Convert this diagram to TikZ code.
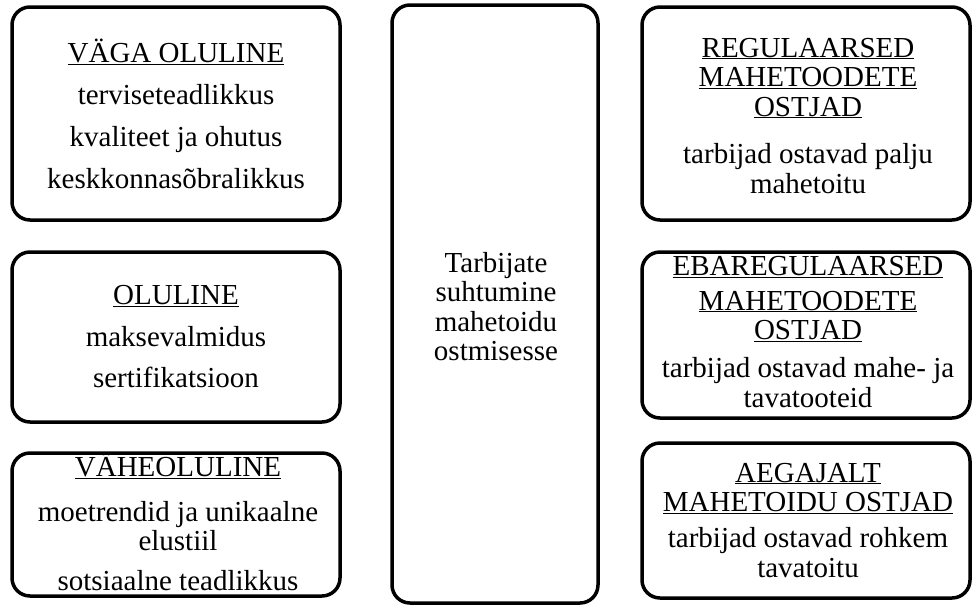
\documentclass[tikz,border=0pt]{standalone}
\usepackage{fontspec}
\setmainfont{Liberation Serif}
\usepackage{tikz}
\tikzset{
    rounded-box/.style = {draw=black, line width=3.5pt, rectangle, rounded corners=18pt, inner sep=0pt},
    box-text/.style = {anchor=base, align=center, inner sep=0pt, font=\fontsize{29}{29.5}\selectfont},
}

\begin{document}
\begin{tikzpicture}[x=1pt, y=-1pt]
\useasboundingbox (0,0) rectangle (972,606);
% left column
\node [rounded-box, minimum width=328pt, minimum height=213pt] (very) at (176,113.5) {};
\node [rounded-box, minimum width=328pt, minimum height=170pt] (important) at (176,337) {};
\node [rounded-box, minimum width=328pt, minimum height=143pt] (minor) at (176,524.5) {};
% middle
\node [rounded-box, minimum width=206pt, minimum height=598pt] (attitude) at (495,304) {};
% right column
\node [rounded-box, minimum width=328pt, minimum height=213pt] (regular) at (806,113.5) {};
\node [rounded-box, minimum width=328pt, minimum height=166pt] (irregular) at (806,335) {};
\node [rounded-box, minimum width=328pt, minimum height=155pt] (occasional) at (806,520.5) {};

% texts sit on the baseline of their last line
\node [box-text] (very-text) at (176,188) {\underline{VÄGA OLULINE}\\[12.5pt]
    terviseteadlikkus\\[12.5pt] kvaliteet ja ohutus\\[12pt] keskkonnasõbralikkus};
\node [box-text] (important-text) at (176,387) {\underline{OLULINE}\\[12.5pt]
    maksevalmidus\\[11pt] sertifikatsioon};
\node [box-text] (minor-text) at (178,590) {\underline{VÄHEOLULINE}\\[15.5pt]
    moetrendid ja unikaalne\\[-1pt] elustiil\\[10.5pt] sotsiaalne teadlikkus};
\node [box-text] (attitude-text) at (496,360.5) {Tarbijate\\ suhtumine\\ mahetoidu\\ ostmisesse};
\node [box-text] (regular-text) at (808,193) {\underline{REGULAARSED}\\ \underline{MAHETOODETE}\\
    \underline{OSTJAD}\\[18pt] tarbijad ostavad palju\\ mahetoitu};
\node [box-text] (irregular-text) at (808,407) {\underline{EBAREGULAARSED}\\[5pt] \underline{MAHETOODETE}\\
    \underline{OSTJAD}\\[8.5pt] tarbijad ostavad mahe- ja\\ tavatooteid};
\node [box-text] (occasional-text) at (808,577) {\underline{AEGAJALT}\\ \underline{MAHETOIDU OSTJAD}\\[6.5pt]
    tarbijad ostavad rohkem\\ tavatoitu};
\end{tikzpicture}
\end{document}
